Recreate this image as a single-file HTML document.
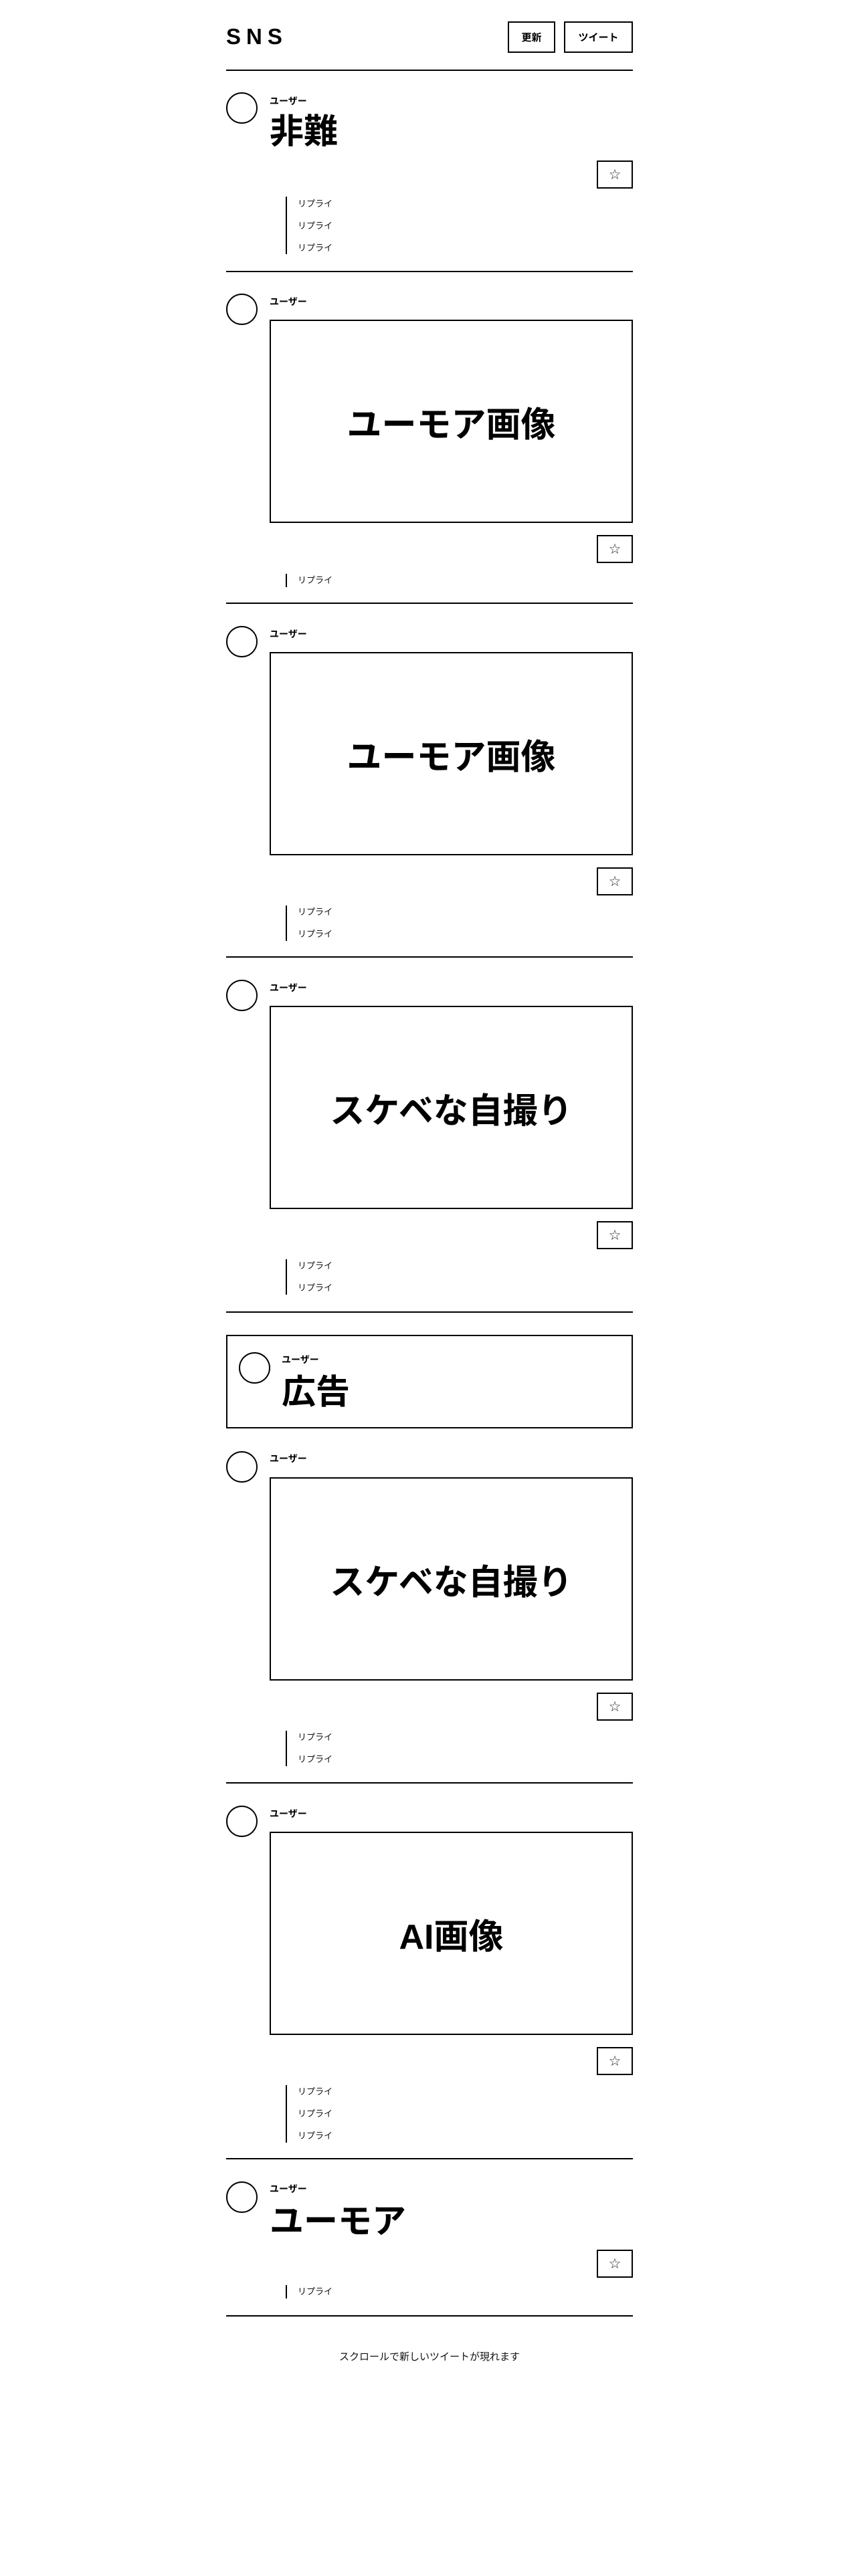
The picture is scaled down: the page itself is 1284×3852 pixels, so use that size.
<!DOCTYPE html>
<html><head><meta charset="utf-8"><style>
*{margin:0;padding:0;box-sizing:border-box}
body{width:1284px;height:3852px;background:#fff;position:relative;overflow:hidden;font-family:"Liberation Sans","Noto Sans CJK JP",sans-serif;color:#000}
.a{position:absolute}
.sep{position:absolute;left:338px;width:608px;height:2px;background:#000}
.cir{position:absolute;width:47px;height:47px;border:2px solid #000;border-radius:50%}
.usr{position:absolute;font-size:14px;font-weight:bold;line-height:20px;height:20px}
.ttl{position:absolute;font-size:51px;font-weight:bold;line-height:60px;height:60px}
.img{position:absolute;left:403px;width:543px;height:304px;border:2px solid #000;display:flex;align-items:center;justify-content:center;font-size:52px;font-weight:bold}
.star{position:absolute;left:892px;width:54px;height:42px;border:2px solid #000;display:flex;align-items:center;justify-content:center;font-size:21px;font-family:"DejaVu Sans",sans-serif;color:#222}
.rl{position:absolute;left:427px;width:2px;background:#000}
.rt{position:absolute;left:445px;font-size:13px;line-height:20px;height:20px;color:#111}
.btn{position:absolute;top:32px;height:47px;border:2px solid #000;display:flex;align-items:center;justify-content:center;font-size:15px;font-weight:bold}
</style></head><body>
<div class="a" style="left:338px;top:34px;font-size:33px;font-weight:bold;letter-spacing:8px;line-height:42px">SNS</div>
<div class="btn" style="left:759px;width:71px">更新</div>
<div class="btn" style="left:843px;width:103px">ツイート</div>
<div class="sep" style="top:104px"></div>

<!-- Post 1 -->
<div class="cir" style="left:338px;top:138px"></div>
<div class="usr" style="left:403px;top:141px">ユーザー</div>
<div class="ttl" style="left:403px;top:167px">非難</div>
<div class="star" style="top:240px">☆</div>
<div class="rl" style="top:294px;height:86px"></div>
<div class="rt" style="top:295px">リプライ</div>
<div class="rt" style="top:328px">リプライ</div>
<div class="rt" style="top:361px">リプライ</div>
<div class="sep" style="top:405px"></div>

<!-- Post 2 -->
<div class="cir" style="left:338px;top:439px"></div>
<div class="usr" style="left:403px;top:441px">ユーザー</div>
<div class="img" style="top:478px">ユーモア画像</div>
<div class="star" style="top:800px">☆</div>
<div class="rl" style="top:858px;height:20px"></div>
<div class="rt" style="top:858px">リプライ</div>
<div class="sep" style="top:901px"></div>

<!-- Post 3 -->
<div class="cir" style="left:338px;top:936px"></div>
<div class="usr" style="left:403px;top:938px">ユーザー</div>
<div class="img" style="top:975px">ユーモア画像</div>
<div class="star" style="top:1297px">☆</div>
<div class="rl" style="top:1354px;height:53px"></div>
<div class="rt" style="top:1354px">リプライ</div>
<div class="rt" style="top:1387px">リプライ</div>
<div class="sep" style="top:1430px"></div>

<!-- Post 4 -->
<div class="cir" style="left:338px;top:1465px"></div>
<div class="usr" style="left:403px;top:1467px">ユーザー</div>
<div class="img" style="top:1504px">スケベな自撮り</div>
<div class="star" style="top:1826px">☆</div>
<div class="rl" style="top:1883px;height:53px"></div>
<div class="rt" style="top:1883px">リプライ</div>
<div class="rt" style="top:1916px">リプライ</div>
<div class="sep" style="top:1961px"></div>

<!-- Ad -->
<div class="a" style="left:338px;top:1996px;width:608px;height:140px;border:2px solid #000"></div>
<div class="cir" style="left:357px;top:2022px"></div>
<div class="usr" style="left:421px;top:2023px">ユーザー</div>
<div class="ttl" style="left:421px;top:2052px">広告</div>

<!-- Post 5 -->
<div class="cir" style="left:338px;top:2170px"></div>
<div class="usr" style="left:403px;top:2171px">ユーザー</div>
<div class="img" style="top:2209px">スケベな自撮り</div>
<div class="star" style="top:2531px">☆</div>
<div class="rl" style="top:2588px;height:53px"></div>
<div class="rt" style="top:2588px">リプライ</div>
<div class="rt" style="top:2621px">リプライ</div>
<div class="sep" style="top:2665px"></div>

<!-- Post 6 -->
<div class="cir" style="left:338px;top:2700px"></div>
<div class="usr" style="left:403px;top:2702px">ユーザー</div>
<div class="img" style="top:2739px">AI画像</div>
<div class="star" style="top:3061px">☆</div>
<div class="rl" style="top:3118px;height:86px"></div>
<div class="rt" style="top:3118px">リプライ</div>
<div class="rt" style="top:3151px">リプライ</div>
<div class="rt" style="top:3184px">リプライ</div>
<div class="sep" style="top:3227px"></div>

<!-- Post 7 -->
<div class="cir" style="left:338px;top:3262px"></div>
<div class="usr" style="left:403px;top:3263px">ユーザー</div>
<div class="ttl" style="left:403px;top:3292px">ユーモア</div>
<div class="star" style="top:3364px">☆</div>
<div class="rl" style="top:3417px;height:20px"></div>
<div class="rt" style="top:3417px">リプライ</div>
<div class="sep" style="top:3462px"></div>

<div class="a" style="left:338px;width:608px;top:3514px;text-align:center;font-size:15px;line-height:22px;color:#111">スクロールで新しいツイートが現れます</div>
</body></html>
